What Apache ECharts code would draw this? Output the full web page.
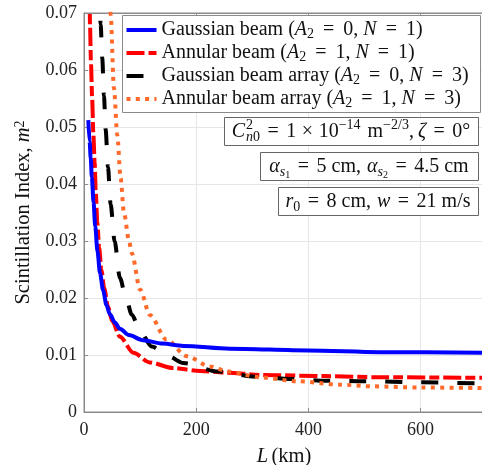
<!DOCTYPE html>
<html><head><meta charset="utf-8">
<script src="https://cdn.jsdelivr.net/npm/echarts@6/dist/echarts.min.js"></script>
<style>html,body{margin:0;padding:0;background:#fff}#c{width:482px;height:465px}</style>
</head><body><div id="c"></div>
<script>
// ---- data ----
const gaussL  = [7.7, 10, 12, 14, 17, 20, 24, 28.5, 34, 40, 46, 55, 64, 80, 105, 140, 177, 260, 400, 527, 713];
const gaussSI = [0.0512, 0.0475, 0.0445, 0.0412, 0.0368, 0.0326, 0.0282, 0.0244, 0.0214, 0.0188, 0.0172, 0.0157, 0.0146, 0.0135, 0.0126, 0.0120, 0.0116, 0.0111, 0.0108, 0.0105, 0.0104];
const annL  = [9.5, 10.7, 12.5, 14.5, 16.6, 19, 21, 23.7, 27, 31, 36, 43, 50, 64, 88, 117, 159, 207, 254, 319, 430, 527, 713];
const annSI = [0.080, 0.068, 0.061, 0.055, 0.049, 0.0437, 0.0385, 0.0333, 0.0288, 0.0250, 0.0217, 0.0184, 0.0160, 0.0132, 0.0104, 0.0087, 0.0077, 0.0072, 0.0069, 0.0065, 0.0063, 0.0061, 0.0060];
const gArrL  = [27, 29.7, 32.6, 35.6, 38.6, 42.7, 47.5, 54.6, 64, 75, 85, 100, 120.6, 150, 177, 239, 305, 367, 432, 500, 600, 713];
const gArrSI = [0.075, 0.068, 0.062, 0.0555, 0.0495, 0.0430, 0.0364, 0.0299, 0.0235, 0.0200, 0.0171, 0.0142, 0.0115, 0.0098, 0.0086, 0.0071, 0.0062, 0.0058, 0.0055, 0.0054, 0.0052, 0.0050];
const aArrL  = [44, 47.5, 53.4, 59.3, 65.3, 71.2, 80, 85, 100, 117.5, 147, 183, 224, 257, 313, 379, 456, 515, 600, 713];
const aArrSI = [0.080, 0.0697, 0.0568, 0.0486, 0.0410, 0.0350, 0.0302, 0.0279, 0.0215, 0.0170, 0.0127, 0.0098, 0.0080, 0.0071, 0.0061, 0.0054, 0.0048, 0.0045, 0.0043, 0.0042];
const seriesNames = ['Gaussian beam (A2 = 0, N = 1)', 'Annular beam (A2 = 1, N = 1)', 'Gaussian beam array (A2 = 0, N = 3)', 'Annular beam array (A2 = 1, N = 3)'];
const xTicks = [0, 200, 400, 600];
const yTicks = [0, 0.01, 0.02, 0.03, 0.04, 0.05, 0.06, 0.07];

const FF = '"Liberation Serif","DejaVu Serif",serif';
const zip = (a, b) => a.map((v, i) => [v, b[i]]);

// ---- math-text helper (for annotation boxes) ----
const cv = document.createElement('canvas').getContext('2d');
function fontStr(s) { return (s.it ? 'italic ' : '') + s.size + 'px ' + FF; }
function mathText(segs, anchorX, baseline, align) {
  let x = 0, hi = 0, markX = 0;
  const placed = [];
  for (const s of segs) {
    if (s.at === 'mark') x = markX; else if (!s.cont) x = hi;
    x += (s.pre || 0);
    if (s.mark) markX = x;
    cv.font = fontStr(s);
    const w = cv.measureText(s.t).width;
    placed.push({ s, x });
    x += w + (s.pad || 0); hi = Math.max(hi, x);
  }
  const total = hi;
  const x0 = align === 'right' ? anchorX - total : align === 'center' ? anchorX - total / 2 : anchorX;
  return placed.map(p => ({
    type: 'text', z: 6,
    x: x0 + p.x, y: baseline - 0.33 * p.s.size + (p.s.dy || 0),
    style: { text: p.s.t, font: fontStr(p.s), fill: '#111', align: 'left', verticalAlign: 'middle', textAlign: 'left', textVerticalAlign: 'middle' }
  }));
}
const M = 20, S = 14, SS = 10;
const G = 3.5; // extra math spacing around relations
const box1 = [
  { t: 'C', size: M, it: true },
  { t: '2', size: S, dy: -8, mark: true, pre: 1 },
  { t: 'n', size: S, it: true, dy: 4, at: 'mark' },
  { t: '0', size: S, dy: 4, cont: true },
  { t: '=', size: M, pre: G + 4, pad: G + 4 },
  { t: '1', size: M },
  { t: '×', size: M, pre: G + 2, pad: G + 2 },
  { t: '10', size: M },
  { t: '−14', size: S, dy: -8 },
  { t: 'm', size: M, pre: 7 },
  { t: '−2/3', size: S, dy: -8 },
  { t: ',', size: M, pad: 4 },
  { t: 'ζ', size: M, it: true },
  { t: '=', size: M, pre: G + 4, pad: G + 4 },
  { t: '0°', size: M }
];
const box2 = [
  { t: 'α', size: M, it: true },
  { t: 's', size: S, it: true, dy: 4 },
  { t: '1', size: SS, dy: 6 },
  { t: '=', size: M, pre: G + 4, pad: G + 4 },
  { t: '5 cm,', size: M, pad: 6 },
  { t: 'α', size: M, it: true },
  { t: 's', size: S, it: true, dy: 4 },
  { t: '2', size: SS, dy: 6 },
  { t: '=', size: M, pre: G + 4, pad: G + 4 },
  { t: '4.5 cm', size: M }
];
const box3 = [
  { t: 'r', size: M, it: true },
  { t: '0', size: S, dy: 4 },
  { t: '=', size: M, pre: G + 4, pad: G + 4 },
  { t: '8 cm,', size: M, pad: 6 },
  { t: 'w', size: M, it: true },
  { t: '=', size: M, pre: G + 4, pad: G + 4 },
  { t: '21 m/s', size: M }
];
function rect(x1, y1, x2, y2) {
  return { type: 'rect', z: 5, shape: { x: x1 + 0.5, y: y1 + 0.5, width: x2 - x1, height: y2 - y1 }, style: { fill: '#fff', stroke: '#666', lineWidth: 1 } };
}
const graphics = [
  { type: 'rect', z: 3, shape: { x: 122.5, y: 15.5, width: 358, height: 97 }, style: { fill: '#fff', stroke: '#8a8a8a', lineWidth: 1 } },
  rect(224, 117, 478, 145), ...mathText(box1, 351, 138, 'center'),
  rect(260, 152, 478, 180), ...mathText(box2, 369, 173, 'center'),
  rect(278, 187, 478, 215), ...mathText(box3, 378, 208, 'center')
];

const colors = ['#0000ff', '#ff0000', '#000000', '#ff6a2a'];
const dashes = ['solid', [18, 4, 10, 4], [17, 19], [4, 5.3]];
const datasets = [zip(gaussL, gaussSI), zip(annL, annSI), zip(gArrL, gArrSI), zip(aArrL, aArrSI)];

const richBase = { fontFamily: FF, fontSize: 20, color: '#111', lineHeight: 22 };
const legendRich = {
  a: richBase,
  i: Object.assign({}, richBase, { fontStyle: 'italic' }),
  e: Object.assign({}, richBase, { padding: [0, 4, 0, 4] }),
  sub: { fontFamily: FF, fontSize: 14, color: '#111', lineHeight: 8, verticalAlign: 'bottom' }
};
function legendFmt(name) {
  const m = name.match(/^(.*) \(A2 = (\d), N = (\d)\)$/);
  return '{a|' + m[1] + ' (}{i|A}{sub|2}{e| = }{a|' + m[2] + ', }{i|N}{e| = }{a|' + m[3] + ')}';
}

const chart = echarts.init(document.getElementById('c'), null, { renderer: 'canvas' });
chart.setOption({
  animation: false,
  backgroundColor: '#fff',
  grid: { left: 84, right: -2, top: 13, bottom: 53, show: true, borderColor: '#8a8a8a', borderWidth: 1, backgroundColor: 'transparent', containLabel: false, outerBoundsMode: 'none' },
  xAxis: [{
    type: 'value', min: xTicks[0], max: 713, interval: 200,
    axisLine: { lineStyle: { color: '#8a8a8a' } },
    axisTick: { inside: true, length: 4, lineStyle: { color: '#8a8a8a' } },
    axisLabel: { showMaxLabel: false, color: '#222', fontFamily: FF, fontSize: 18, margin: 9 },
    splitLine: { show: true, lineStyle: { color: '#e6e6e6' } },
    name: '{i|L} {a|(km)}', nameLocation: 'middle', nameGap: 34,
    nameTextStyle: { rich: { a: { fontFamily: FF, fontSize: 20.5, color: '#111' }, i: { fontFamily: FF, fontSize: 20.5, fontStyle: 'italic', color: '#111' } } }
  }, {
    type: 'value', position: 'top', min: xTicks[0], max: 713, interval: 200,
    axisLine: { show: true, lineStyle: { color: '#8a8a8a' } },
    axisTick: { inside: true, length: 4, lineStyle: { color: '#8a8a8a' } },
    axisLabel: { show: false }, splitLine: { show: false }
  }],
  yAxis: {
    type: 'value', min: yTicks[0], max: yTicks[yTicks.length - 1], interval: 0.01,
    axisLine: { show: true, lineStyle: { color: '#8a8a8a' } },
    axisTick: { show: true, inside: true, length: 4, lineStyle: { color: '#8a8a8a' } },
    axisLabel: { color: '#222', fontFamily: FF, fontSize: 18, margin: 7, formatter: v => v === 0 ? '0' : v.toFixed(2) },
    splitLine: { show: true, lineStyle: { color: '#e6e6e6' } },
    name: '{a|Scintillation Index, }{i|m}{sup|2}', nameLocation: 'middle', nameGap: 48, nameRotate: 90,
    nameTextStyle: { rich: {
      a: { fontFamily: FF, fontSize: 20.5, color: '#111', lineHeight: 22 },
      i: { fontFamily: FF, fontSize: 20.5, fontStyle: 'italic', color: '#111', lineHeight: 22 },
      sup: { fontFamily: FF, fontSize: 14, color: '#111', lineHeight: 10, verticalAlign: 'top' }
    } }
  },
  legend: {
    orient: 'vertical', left: 122, top: 15, padding: [5, 3, 3, 2.5], itemGap: 2,
    itemWidth: 30, itemHeight: 14, z: 4,
    data: seriesNames,
    formatter: legendFmt,
    itemStyle: { opacity: 0 },
    lineStyle: { width: 4 },
    textStyle: { rich: legendRich }
  },
  series: seriesNames.map((n, k) => ({
    name: n, type: 'line', data: datasets[k], showSymbol: false, symbol: 'none',
    smooth: 0.3, smoothMonotone: 'x', clip: true, z: 2 + (k === 0 ? 0.5 : 0),
    lineStyle: { color: colors[k], width: 4, type: dashes[k], cap: 'butt' },
    itemStyle: { color: colors[k] }
  })),
  graphic: graphics
});
</script></body></html>
